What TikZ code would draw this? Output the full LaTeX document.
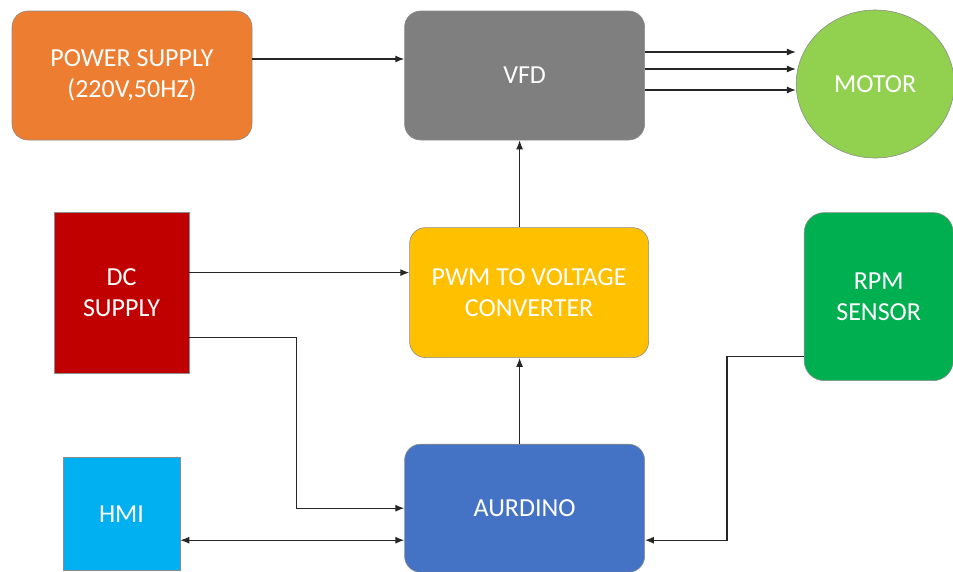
\documentclass[tikz,border=0pt]{standalone}
\usepackage{fontspec}
\setmainfont{Carlito}
\usepackage{tikz}
\usetikzlibrary{shapes.geometric, arrows.meta, positioning}
\usepackage{xcolor}

\definecolor{psuorange}{HTML}{ED7D31}
\definecolor{vfdgray}{HTML}{7F7F7F}
\definecolor{motorgreen}{HTML}{92D050}
\definecolor{dcred}{HTML}{C00000}
\definecolor{pwmyellow}{HTML}{FFC000}
\definecolor{rpmgreen}{HTML}{00B050}
\definecolor{hmiblue}{HTML}{00B0F0}
\definecolor{ardblue}{HTML}{4472C4}

\begin{document}
\begin{tikzpicture}[
        box/.style={draw=black!45, line width=0.6pt, rounded corners=16pt, minimum width=240pt, minimum height=129pt, align=center, inner sep=0pt, text=white, font=\fontsize{26}{31}\selectfont},
        sqbox/.style={box, rounded corners=0pt},
        motorshape/.style={draw=black!45, line width=0.6pt, ellipse, minimum width=158pt, minimum height=148pt, inner sep=0pt, text=white, font=\fontsize{26}{31}\selectfont},
        arrow/.style={-{Latex[length=9pt,width=7pt]}, line width=1.2pt, draw=black!85},
        both_arrow/.style={{Latex[length=9pt,width=7pt]}-{Latex[length=9pt,width=7pt]}, line width=1.2pt, draw=black!85}
    ]

    \useasboundingbox (0,0) rectangle (953pt,-571pt);

    \node[box, fill=psuorange] (psu) at (132pt,-75.5pt) {POWER SUPPLY\\(220V,50HZ)};
    \node[box, fill=vfdgray, right=152pt of psu] (vfd) {VFD};
    \node[motorshape, fill=motorgreen, right=151pt of vfd, yshift=-8.5pt] (motor) {MOTOR};

    \node[box, fill=pwmyellow, minimum width=239pt, minimum height=130pt, below=87pt of vfd, xshift=4.5pt] (pwm) {PWM TO VOLTAGE\\CONVERTER};
    \node[sqbox, fill=dcred, minimum width=135pt, minimum height=161pt, left=220pt of pwm, yshift=-0.5pt] (dc) {DC\\SUPPLY};
    \node[box, fill=rpmgreen, minimum width=149pt, minimum height=168pt, rounded corners=20pt, right=155pt of pwm, yshift=-4pt] (rpm) {RPM\\SENSOR};

    \node[box, fill=ardblue, minimum height=128pt, below=86pt of pwm, xshift=-4.5pt] (ard) {AURDINO};
    \node[sqbox, fill=hmiblue, minimum width=117pt, minimum height=113pt, left=224pt of ard, yshift=-5.5pt] (hmi) {HMI};

    \draw[arrow] ([yshift=16.5pt]psu.east) -- ([yshift=16.5pt]vfd.west);
    % three phase output
    \foreach \dy in {23.5, 6.5, -14.5}
        \draw[arrow] ([yshift=\dy pt]vfd.east) -- ([yshift=\dy pt]vfd.east -| motor.west);

    \draw[arrow] ([xshift=-5pt]vfd.south |- pwm.north) -- ([xshift=-5pt]vfd.south);
    \draw[arrow] ([xshift=-5pt]ard.north) -- ([xshift=-5pt]ard.north |- pwm.south);
    \draw[arrow] ([yshift=20.5pt]dc.east) -- ([yshift=20.5pt]dc.east -| pwm.west);
    \draw[arrow] ([yshift=-44.5pt]dc.east) -- ++(107pt,0) |- (ard.west);
    \draw[both_arrow] ([yshift=-26.5pt]hmi.east) -- ([yshift=-26.5pt]hmi.east -| ard.west);
    \draw[arrow] ([yshift=-60pt]rpm.west) -- ++(-77pt,0) |- ([yshift=-32pt]ard.east);

\end{tikzpicture}
\end{document}
